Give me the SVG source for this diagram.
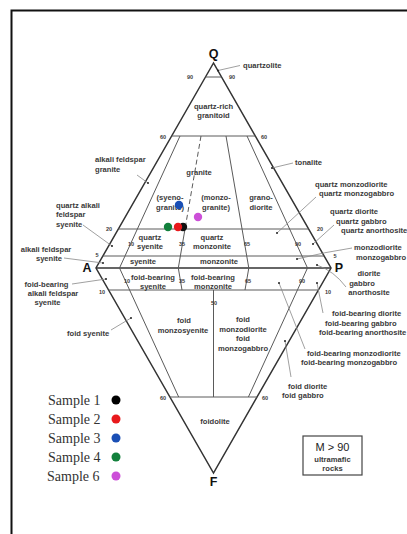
<svg xmlns="http://www.w3.org/2000/svg" width="407" height="534" viewBox="0 0 407 534">
<style>
.t{font-family:"Liberation Sans",Arial,sans-serif;font-size:7.6px;font-weight:bold;fill:#3a3a3a}
.m{text-anchor:middle}
.n{font-family:"Liberation Sans",Arial,sans-serif;font-size:5.5px;font-weight:bold;fill:#3a3a3a;text-anchor:middle}
.v{font-family:"Liberation Sans",Arial,sans-serif;font-size:12.5px;font-weight:bold;fill:#111;text-anchor:middle}
.lg{font-family:"Liberation Serif","Times New Roman",serif;font-size:14px;fill:#333}
.edge{fill:none;stroke:#333;stroke-width:1.5;stroke-linejoin:miter}
.in{fill:none;stroke:#5a5a5a;stroke-width:1}
.ld{fill:none;stroke:#888;stroke-width:0.8}
.dot{fill:#222}
</style>
<rect width="407" height="534" fill="#fff"/>
<path d="M11.5,534 V10.5 H407" fill="none" stroke="#111" stroke-width="2"/>

<g id="diagram-lines">
<path class="edge" d="M213.5,63 L96,268 L213.5,473 L331,268 Z"/>
<line class="edge" x1="96" y1="268" x2="331" y2="268"/>
<line class="in" x1="205.5" y1="77" x2="221.5" y2="77"/>
<line class="in" x1="171.7" y1="136" x2="255.3" y2="136"/>
<line class="in" x1="118.4" y1="229" x2="308.6" y2="229"/>
<line class="in" x1="102.9" y1="256" x2="324.1" y2="256"/>
<line class="in" x1="180" y1="136" x2="119.5" y2="268"/>
<line class="in" x1="201" y1="136" x2="185" y2="229" stroke-dasharray="5,3"/>
<line class="in" x1="185" y1="229" x2="178.3" y2="268"/>
<line class="in" x1="226" y1="136" x2="248.8" y2="268"/>
<line class="in" x1="247" y1="136" x2="307.5" y2="268"/>
<line class="in" x1="108.6" y1="290" x2="318.4" y2="290"/>
<line class="in" x1="169.9" y1="397" x2="257.1" y2="397"/>
<line class="in" x1="119.5" y1="268" x2="178.7" y2="397"/>
<line class="in" x1="307.5" y1="268" x2="248.4" y2="397"/>
<line class="in" x1="178.3" y1="268" x2="182" y2="290"/>
<line class="in" x1="248.8" y1="268" x2="245" y2="290"/>
<line class="in" x1="213.5" y1="290" x2="213.5" y2="397"/>
</g>

<g id="connectors">
<line class="ld" x1="240" y1="65.5" x2="218" y2="70.5"/>
<line class="ld" x1="137" y1="175" x2="148" y2="183"/>
<line class="ld" x1="293" y1="163" x2="272" y2="168"/>
<line class="ld" x1="316" y1="197" x2="277" y2="233"/>
<line class="ld" x1="334" y1="225" x2="313" y2="244"/>
<line class="ld" x1="83" y1="225" x2="112" y2="246"/>
<line class="ld" x1="64" y1="258" x2="103" y2="263"/>
<path class="ld" d="M352,248 Q325,252 297,259"/>
<path class="ld" d="M346,287 Q334,271 317,265"/>
<line class="ld" x1="72" y1="284" x2="106" y2="279"/>
<line class="ld" x1="111" y1="330" x2="131" y2="318"/>
<line class="ld" x1="323" y1="313" x2="317" y2="283"/>
<line class="ld" x1="305" y1="349" x2="279" y2="283"/>
<line class="ld" x1="291" y1="377" x2="285" y2="341"/>
<g class="dot">
<circle cx="218" cy="70.5" r="1"/><circle cx="148" cy="183" r="1"/><circle cx="272" cy="168" r="1"/>
<circle cx="277" cy="233" r="1"/><circle cx="313" cy="244" r="1"/><circle cx="112" cy="246" r="1"/>
<circle cx="103" cy="263" r="1"/><circle cx="297" cy="259" r="1"/><circle cx="317" cy="265" r="1"/>
<circle cx="106" cy="279" r="1"/><circle cx="131" cy="318" r="1"/><circle cx="317" cy="283" r="1"/>
<circle cx="279" cy="283" r="1"/><circle cx="285" cy="341" r="1"/>
</g>
</g>

<g id="vertices">
<text class="v" x="213.5" y="57.5">Q</text>
<text class="v" x="87" y="271.5">A</text>
<text class="v" x="339" y="271.5">P</text>
<text class="v" x="213.5" y="485.5">F</text>
</g>

<g id="numbers">
<text class="n" x="190" y="79">90</text><text class="n" x="232" y="79">90</text>
<text class="n" x="163" y="138.5">60</text><text class="n" x="264" y="138.5">60</text>
<text class="n" x="109" y="231">20</text><text class="n" x="320" y="231">20</text>
<text class="n" x="131" y="246">10</text><text class="n" x="182" y="245.5">35</text>
<text class="n" x="247" y="245.5">65</text><text class="n" x="298" y="245.5">90</text>
<text class="n" x="97" y="257">5</text><text class="n" x="335" y="258">5</text>
<text class="n" x="127" y="283">10</text><text class="n" x="182" y="283">35</text>
<text class="n" x="248" y="282.5">65</text><text class="n" x="302" y="283">90</text>
<text class="n" x="102" y="294">10</text><text class="n" x="328" y="294">10</text>
<text class="n" x="214" y="305">50</text>
<text class="n" x="163" y="400">60</text><text class="n" x="265" y="400">60</text>
</g>

<g id="field-labels" class="t">
<text x="243" y="67.5">quartzolite</text>
<text class="m" x="213.5" y="108.5">quartz-rich</text>
<text class="m" x="213.5" y="117.5">granitoid</text>
<text x="95" y="161.5">alkali feldspar</text>
<text x="95" y="171.5">granite</text>
<text class="m" x="199" y="175">granite</text>
<text class="m" x="170" y="200">(syeno-</text>
<text class="m" x="170" y="209.5">granite)</text>
<text class="m" x="216" y="200">(monzo-</text>
<text class="m" x="216" y="209.5">granite)</text>
<text class="m" x="261" y="200">grano-</text>
<text class="m" x="261" y="209.5">diorite</text>
<text x="295" y="164.5">tonalite</text>
<text x="315" y="186.5">quartz monzodiorite</text>
<text x="319" y="195.5">quartz monzogabbro</text>
<text x="330" y="213.5">quartz diorite</text>
<text x="336" y="223.5">quartz gabbro</text>
<text x="341" y="232.5">quartz anorthosite</text>
<text x="56" y="207.5">quartz alkali</text>
<text x="56" y="216.5">feldspar</text>
<text x="56" y="226.5">syenite</text>
<text class="m" x="150" y="239.5">quartz</text>
<text class="m" x="150" y="248.5">syenite</text>
<text class="m" x="212" y="239.5">quartz</text>
<text class="m" x="212" y="248.5">monzonite</text>
<text x="354" y="249.5">monzodiorite</text>
<text x="356" y="259.5">monzogabbro</text>
<text class="m" x="46" y="251.5">alkali feldspar</text>
<text class="m" x="49" y="260.5">syenite</text>
<text class="m" x="143" y="263.5">syenite</text>
<text class="m" x="219" y="263.5">monzonite</text>
<text class="m" x="369" y="275.5">diorite</text>
<text class="m" x="362" y="285.5">gabbro</text>
<text class="m" x="369" y="294.5">anorthosite</text>
<text class="m" x="153" y="279.5">foid-bearing</text>
<text class="m" x="153" y="288.5">syenite</text>
<text class="m" x="213" y="279.5">foid-bearing</text>
<text class="m" x="213" y="288.5">monzonite</text>
<text class="m" x="46.5" y="286.5">foid-bearing</text>
<text class="m" x="53" y="295.5">alkali feldspar</text>
<text class="m" x="47.5" y="304.5">syenite</text>
<text x="67" y="335.5">foid syenite</text>
<text class="m" x="184" y="322.5">foid</text>
<text class="m" x="183" y="332.5">monzosyenite</text>
<text class="m" x="243" y="321.5">foid</text>
<text class="m" x="243" y="331.5">monzodiorite</text>
<text class="m" x="243" y="340.5">foid</text>
<text class="m" x="243" y="350.5">monzogabbro</text>
<text x="332" y="315.5">foid-bearing diorite</text>
<text x="325" y="325.5">foid-bearing gabbro</text>
<text x="319" y="334.5">foid-bearing anorthosite</text>
<text x="307" y="355.5">foid-bearing monzodiorite</text>
<text x="301" y="364.5">foid-bearing monzogabbro</text>
<text x="288" y="388.5">foid diorite</text>
<text x="282" y="397.5">foid gabbro</text>
<text class="m" x="215" y="423.5">foidolite</text>
</g>

<g id="ultramafic-box">
<rect x="303" y="436" width="59" height="39" fill="none" stroke="#444" stroke-width="1.2"/>
<text x="332.5" y="451" text-anchor="middle" style="font-family:'Liberation Sans',Arial,sans-serif;font-size:11px;fill:#222">M &gt; 90</text>
<text class="t m" x="332.5" y="462">ultramafic</text>
<text class="t m" x="332.5" y="471">rocks</text>
</g>

<g id="samples">
<circle cx="183" cy="227" r="4.2" fill="#111"/>
<circle cx="178" cy="227" r="4.2" fill="#e8191c"/>
<circle cx="179" cy="205" r="4.2" fill="#1a4fb5"/>
<circle cx="168" cy="227" r="4.2" fill="#12803c"/>
<circle cx="198" cy="217" r="4.2" fill="#cc4fd8"/>
</g>

<g id="legend">
<text class="lg" x="48" y="405">Sample 1</text><circle cx="116" cy="400" r="4.5" fill="#000"/>
<text class="lg" x="48" y="424">Sample 2</text><circle cx="116" cy="419" r="4.5" fill="#e8191c"/>
<text class="lg" x="48" y="443">Sample 3</text><circle cx="116" cy="438" r="4.5" fill="#1a4fb5"/>
<text class="lg" x="48" y="462">Sample 4</text><circle cx="116" cy="457" r="4.5" fill="#12803c"/>
<text class="lg" x="47" y="481">Sample 6</text><circle cx="116" cy="476" r="4.5" fill="#cc4fd8"/>
</g>
</svg>
